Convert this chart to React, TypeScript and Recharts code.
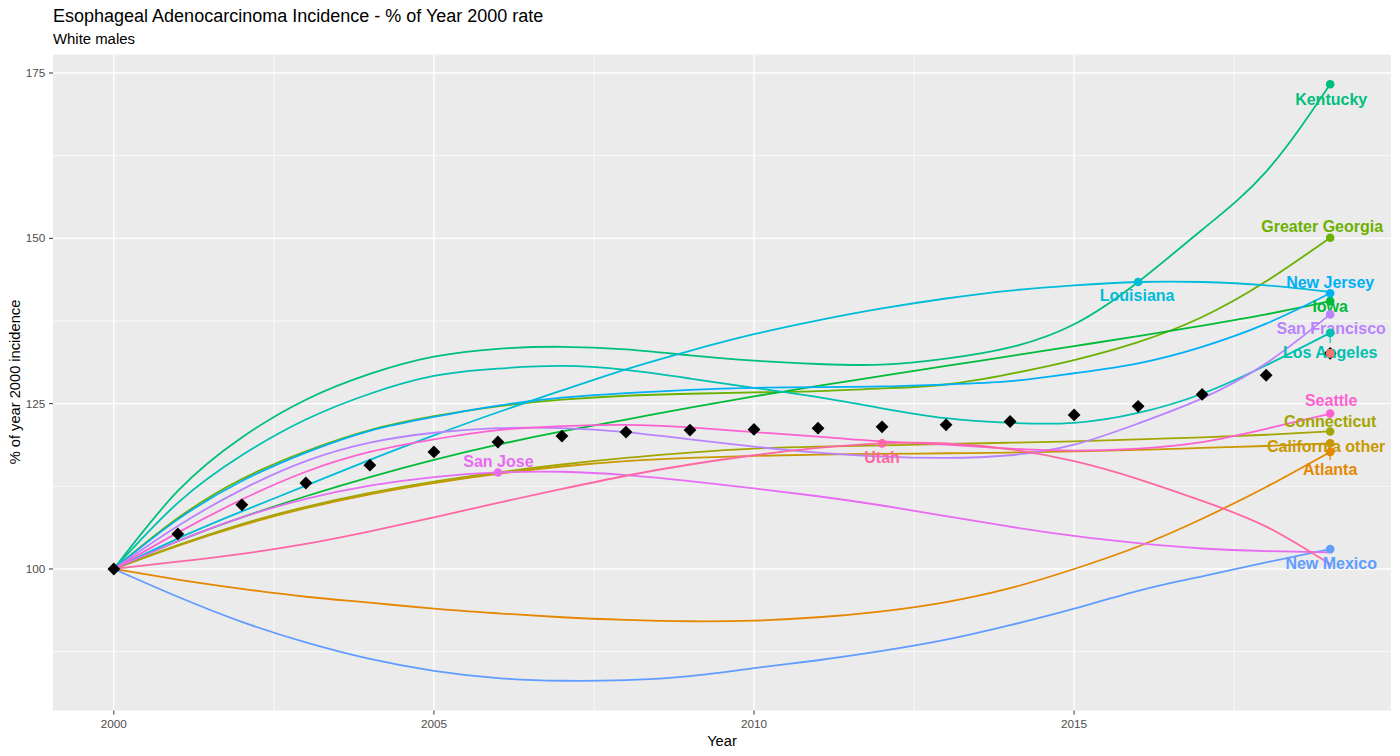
import React from 'react';
import { ComposedChart, Line, Scatter, XAxis, YAxis, CartesianGrid } from 'recharts';

// ---------- data ----------
const years = [2000, 2001, 2002, 2003, 2004, 2005, 2006, 2007, 2008, 2009, 2010, 2011, 2012, 2013, 2014, 2015, 2016, 2017, 2018, 2019];

const atlanta = [100, 98.4, 97.0, 95.8, 94.9, 94.0, 93.3, 92.7, 92.3, 92.1, 92.2, 92.7, 93.6, 95.0, 97.1, 100.0, 103.4, 107.6, 112.4, 117.7];
const californiaOther = [100, 103.5, 106.6, 109.2, 111.3, 113.0, 114.4, 115.5, 116.3, 116.8, 117.1, 117.3, 117.4, 117.5, 117.6, 117.8, 118.0, 118.3, 118.6, 119.0];
const connecticut = [100, 103.6, 106.8, 109.4, 111.5, 113.2, 114.6, 115.8, 116.8, 117.6, 118.2, 118.5, 118.7, 118.9, 119.1, 119.3, 119.6, 119.9, 120.3, 120.8];
const greaterGeorgia = [100, 107.7, 113.6, 117.8, 121.0, 123.1, 124.6, 125.6, 126.2, 126.5, 126.7, 126.9, 127.3, 127.9, 129.5, 131.6, 134.3, 138.1, 143.5, 150.1];
const iowa = [100, 104.2, 107.8, 111.0, 113.9, 116.5, 118.8, 120.8, 122.6, 124.4, 126.1, 127.7, 129.2, 130.7, 132.2, 133.7, 135.2, 136.8, 138.5, 140.5];
const kentucky = [100, 111.8, 119.9, 125.6, 129.5, 132.1, 133.3, 133.6, 133.2, 132.3, 131.5, 131.0, 130.9, 131.8, 133.5, 137.0, 143.4, 151.3, 160.1, 173.3];
const losAngeles = [100, 110.0, 117.2, 122.6, 126.5, 129.2, 130.3, 130.7, 130.1, 128.8, 127.4, 126.0, 124.3, 122.8, 122.1, 122.1, 123.6, 126.5, 130.8, 135.7];
const louisiana = [100, 104.6, 108.7, 112.6, 116.5, 120.2, 123.7, 127.0, 130.2, 133.0, 135.5, 137.6, 139.4, 140.9, 142.1, 142.9, 143.4, 143.4, 142.9, 141.9];
const newJersey = [100, 107.5, 113.3, 117.6, 120.9, 123.0, 124.7, 125.9, 126.6, 127.1, 127.4, 127.5, 127.6, 127.9, 128.4, 129.6, 131.1, 133.6, 137.1, 141.7];
const newMexico = [100, 95.8, 92.0, 88.9, 86.4, 84.6, 83.5, 83.1, 83.2, 83.8, 85.0, 86.2, 87.6, 89.3, 91.5, 94.0, 96.7, 98.9, 101.0, 103.0];
const sanFrancisco = [100, 106.5, 112.0, 116.3, 119.1, 120.6, 121.3, 121.3, 120.7, 119.6, 118.5, 117.6, 117.0, 116.8, 117.2, 118.8, 122.0, 125.8, 131.1, 138.5];
const sanJose = [100, 104.2, 107.8, 110.6, 112.6, 113.9, 114.6, 114.7, 114.2, 113.3, 112.2, 111.0, 109.6, 108.0, 106.4, 105.0, 103.9, 103.1, 102.7, 102.5];
const seattle = [100, 105.5, 110.5, 114.7, 117.7, 119.6, 121.0, 121.6, 121.8, 121.4, 120.7, 120.0, 119.3, 118.8, 118.2, 117.9, 118.2, 119.2, 121.2, 123.5];
const utah = [100, 101.1, 102.3, 103.8, 105.7, 107.8, 110.0, 112.1, 114.1, 115.8, 117.2, 118.3, 119.0, 119.0, 118.1, 116.3, 113.6, 110.3, 106.4, 100.7];
const average = [100, 105.3, 109.7, 113.0, 115.7, 117.7, 119.2, 120.1, 120.7, 121.0, 121.1, 121.3, 121.5, 121.8, 122.3, 123.3, 124.6, 126.4, 129.3, 132.6];

const seriesNames = ['Atlanta', 'California other', 'Connecticut', 'Greater Georgia', 'Iowa', 'Kentucky', 'Los Angeles', 'Louisiana', 'New Jersey', 'New Mexico', 'San Francisco', 'San Jose', 'Seattle', 'Utah'];
const seriesValues = [atlanta, californiaOther, connecticut, greaterGeorgia, iowa, kentucky, losAngeles, louisiana, newJersey, newMexico, sanFrancisco, sanJose, seattle, utah];
const labelYears: Record<string, number> = { Louisiana: 2016, 'San Jose': 2006, Utah: 2012 };

const xTicks = [2000, 2005, 2010, 2015];
const xMinor = [2002.5, 2007.5, 2012.5, 2017.5];
const yTicks = [100, 125, 150, 175];
const yMinor = [87.5, 112.5, 137.5, 162.5];

const title = 'Esophageal Adenocarcinoma Incidence - % of Year 2000 rate';
const subtitle = 'White males';
const xTitle = 'Year';
const yTitle = '% of year 2000 incidence';

// ---------- styles ----------
const FONT = '"Liberation Sans", Arial, Helvetica, sans-serif';
const colors: Record<string, string> = {
  Average: '#F8766D',
  Atlanta: '#E58700',
  'California other': '#C99800',
  Connecticut: '#A3A500',
  'Greater Georgia': '#6BB100',
  Iowa: '#00BA38',
  Kentucky: '#00BF7D',
  'Los Angeles': '#00C0AF',
  Louisiana: '#00BCD8',
  'New Jersey': '#00B0F6',
  'New Mexico': '#619CFF',
  'San Francisco': '#B983FF',
  'San Jose': '#E76BF3',
  Seattle: '#FD61D1',
  Utah: '#FF67A4',
};
// label text offset from its point (px)
const labelOffsets: Record<string, { dx: number; dy: number; seg?: boolean }> = {
  Kentucky: { dx: 1, dy: 15 },
  'Greater Georgia': { dx: -8, dy: -11 },
  'New Jersey': { dx: 0, dy: -11 },
  Iowa: { dx: 0, dy: 5 },
  'San Francisco': { dx: 1, dy: 14 },
  'Los Angeles': { dx: 0, dy: 20, seg: true },
  Seattle: { dx: 1, dy: -13.5 },
  Connecticut: { dx: 0, dy: -9.5 },
  'California other': { dx: -4, dy: 3 },
  Atlanta: { dx: 0, dy: 18, seg: true },
  'New Mexico': { dx: 1, dy: 14 },
  Louisiana: { dx: -1, dy: 13.5 },
  'San Jose': { dx: 0.5, dy: -11 },
  Utah: { dx: 0, dy: 14 },
};

// ---------- derived tables ----------
const rows = years.map((year, i) => {
  const r: Record<string, number> = { year, Average: average[i] };
  seriesNames.forEach((n, k) => {
    r[n] = seriesValues[k][i];
  });
  return r;
});

const avgPoints = years.map((year, i) => ({ year, value: average[i] }));

const labelPoints = seriesNames.map((name, k) => {
  const ly = labelYears[name] ?? years[years.length - 1];
  const i = years.indexOf(ly);
  return { name, year: years[i], value: seriesValues[k][i] };
});

const endAverage = [{ name: 'Average', year: years[years.length - 1], value: average[average.length - 1] }];

// ---------- shapes ----------
const Diamond = (props: any) => {
  const { cx, cy } = props;
  if (cx == null || cy == null) return <g />;
  const h = 6.4;
  return <path d={`M${cx},${cy - h}L${cx + h},${cy}L${cx},${cy + h}L${cx - h},${cy}Z`} fill="#000" />;
};

const LabelText = (props: any) => {
  const { cx, cy, payload } = props;
  if (cx == null || cy == null) return <g />;
  const o = labelOffsets[payload.name];
  const c = colors[payload.name];
  const sgn = o.dy > 0 ? 1 : -1;
  return (
    <g>
      {o.seg ? (
        <line x1={cx} y1={cy} x2={cx} y2={cy + o.dy - sgn * 10} stroke={c} strokeWidth={1.2} />
      ) : null}
      <text
        x={cx + o.dx}
        y={cy + o.dy}
        textAnchor="middle"
        dominantBaseline="central"
        fill={c}
        fontFamily={FONT}
        fontWeight="bold"
        fontSize={16}
      >
        {payload.name}
      </text>
    </g>
  );
};

const PointDot = (props: any) => {
  const { cx, cy, payload } = props;
  if (cx == null || cy == null) return <g />;
  return <circle cx={cx} cy={cy} r={4.3} fill={colors[payload.name]} />;
};

// ---------- app ----------
export default function App() {
  const W = 1400;
  const H = 756;
  return (
    <div style={{ position: 'absolute', left: 0, top: 0, width: W, height: H, background: '#fff', fontFamily: FONT }}>
      <ComposedChart width={W} height={H} data={rows} margin={{ top: 54.5, right: 9, bottom: 0, left: 0 }}>
        <CartesianGrid
          fill="#EBEBEB"
          stroke="#FFFFFF"
          strokeWidth={0.7}
          horizontalValues={yMinor}
          verticalValues={xMinor}
        />
        <CartesianGrid
          stroke="#FFFFFF"
          strokeWidth={1.4}
          horizontalValues={yTicks}
          verticalValues={xTicks}
        />
        <XAxis
          type="number"
          dataKey="year"
          domain={[1999.05, 2019.95]}
          ticks={xTicks}
          interval={0}
          allowDataOverflow
          height={45.5}
          axisLine={false}
          tickLine={{ stroke: '#333333', strokeWidth: 1 }}
          tickSize={4}
          tickMargin={5.5}
          tick={{ fill: '#4D4D4D', fontSize: 11.7, fontFamily: FONT }}
        />
        <YAxis
          type="number"
          domain={[78.6, 177.8]}
          ticks={yTicks}
          interval={0}
          allowDataOverflow
          width={53}
          axisLine={false}
          tickLine={{ stroke: '#333333', strokeWidth: 1 }}
          tickSize={4}
          tickMargin={3.7}
          tick={{ fill: '#4D4D4D', fontSize: 11.7, fontFamily: FONT }}
        />
        {seriesNames.map((n) => (
          <Line
            key={n}
            type="natural"
            dataKey={n}
            stroke={colors[n]}
            strokeWidth={1.8}
            dot={false}
            activeDot={false}
            isAnimationActive={false}
          />
        ))}
        <Scatter data={avgPoints} dataKey="value" shape={Diamond} isAnimationActive={false} />
        <Scatter data={labelPoints} dataKey="value" shape={LabelText} isAnimationActive={false} />
        <Scatter data={labelPoints} dataKey="value" shape={PointDot} isAnimationActive={false} />
        <Scatter data={endAverage} dataKey="value" shape={PointDot} isAnimationActive={false} />
      </ComposedChart>

      <div style={{ position: 'absolute', left: 53, top: 7.1, fontSize: 18, lineHeight: 1, color: '#000', whiteSpace: 'nowrap' }}>
        {title}
      </div>
      <div style={{ position: 'absolute', left: 53, top: 32.4, fontSize: 14.9, lineHeight: 1, color: '#000', whiteSpace: 'nowrap' }}>
        {subtitle}
      </div>
      <div
        style={{
          position: 'absolute',
          left: 722,
          top: 734.1,
          transform: 'translateX(-50%)',
          fontSize: 14.67,
          lineHeight: 1,
          color: '#000',
          whiteSpace: 'nowrap',
        }}
      >
        {xTitle}
      </div>
      <div
        style={{
          position: 'absolute',
          left: 15.4,
          top: 382,
          transform: 'translate(-50%, -50%) rotate(-90deg)',
          fontSize: 14.67,
          lineHeight: 1,
          color: '#000',
          whiteSpace: 'nowrap',
        }}
      >
        {yTitle}
      </div>
    </div>
  );
}
